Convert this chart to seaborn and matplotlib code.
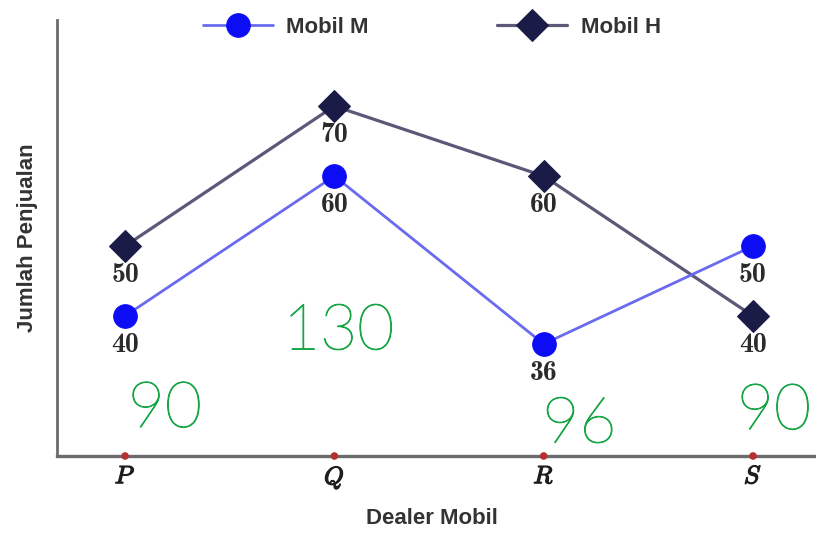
import matplotlib
matplotlib.use("Agg")
import matplotlib.pyplot as plt
import matplotlib.patheffects as pe
import seaborn as sns
import pandas as pd

# ---- data ----
dealers = ["P", "Q", "R", "S"]
mobil_m = [40, 60, 36, 50]
mobil_h = [50, 70, 60, 40]
series_names = ["Mobil M", "Mobil H"]
hand_notes = ["90", "130", "96", "90"]
hand_note_x = [0.19, 1.02, 2.17, 3.1]
hand_note_y = [26.6, 37.7, 24.4, 26.3]

sns.set_style("white")
plt.rcParams["mathtext.fontset"] = "cm"
plt.rcParams["font.family"] = ["Liberation Sans", "DejaVu Sans"]

fig = plt.figure(figsize=(8.16, 5.33), dpi=100)
ax = fig.add_axes([0.0699, 0.1445, 0.9301, 0.818])

df_m = pd.DataFrame({"dealer": dealers, "value": mobil_m})
df_h = pd.DataFrame({"dealer": dealers, "value": mobil_h})

sns.lineplot(data=df_h, x="dealer", y="value", ax=ax, color="#5b5878",
             linewidth=2.3, marker="D", markersize=16,
             markerfacecolor="#1b1b48", markeredgecolor="#1b1b48",
             label=series_names[1], zorder=3)
sns.lineplot(data=df_m, x="dealer", y="value", ax=ax, color="#6a6af0",
             linewidth=2.0, marker="o", markersize=17,
             markerfacecolor="#0c0cf5", markeredgecolor="#0c0cf5",
             label=series_names[0], zorder=4)

handles, labels = ax.get_legend_handles_labels()
if ax.get_legend() is not None:
    ax.get_legend().remove()

ymin, ymax = 20, 82.3
ax.set_xlim(-0.325, 3.301)
ax.set_ylim(ymin, ymax)

# data labels
for vals in (mobil_m, mobil_h):
    for i, v in enumerate(vals):
        ax.annotate(str(v), (i, v), xytext=(0, -21), textcoords="offset points",
                    ha="center", va="center", fontsize=20, family="cmb10",
                    color="#2b2b2b", zorder=5)

# red dots at the category positions on the x axis
sns.scatterplot(x=dealers, y=[ymin] * len(dealers), ax=ax, color="#b5302e",
                s=30, edgecolor="none", clip_on=False, zorder=6, legend=False)

# handwritten notes
for t, hx, hy in zip(hand_notes, hand_note_x, hand_note_y):
    nt = ax.text(hx, hy, t, ha="center", va="center", fontsize=46, color="#16a545",
                 family="Lato", fontweight="light", zorder=2)
    nt.set_path_effects([pe.withStroke(linewidth=0.7, foreground="#16a545")])

# spines
for s in ("top", "right"):
    ax.spines[s].set_visible(False)
ax.spines["bottom"].set_color("#6b6b6b")
ax.spines["bottom"].set_linewidth(2.4)
ax.spines["left"].set_color("#6b6b6b")
ax.spines["left"].set_linewidth(2.0)

ax.set_yticks([])
ax.set_xticks(range(len(dealers)))
ax.set_xticklabels([f"${d}$" for d in dealers], fontsize=18, color="#1e1e1e")
for tl in ax.get_xticklabels():
    tl.set_path_effects([pe.withStroke(linewidth=0.9, foreground="#1e1e1e")])
ax.tick_params(axis="x", length=0, pad=6)

ax.set_xlabel("Dealer Mobil", fontsize=16, fontweight="bold", color="#333333")
ax.set_ylabel("Jumlah Penjualan", fontsize=16, fontweight="bold", color="#333333")
ax.xaxis.set_label_coords(0.494, -0.1445)
ax.xaxis.label.set_verticalalignment("center")
ax.yaxis.set_label_coords(-0.0395, 0.5)
ax.yaxis.label.set_verticalalignment("center")

order = [labels.index(n) for n in series_names]
leg = fig.legend([handles[i] for i in order], [labels[i] for i in order],
                 loc="center", bbox_to_anchor=(0.529, 0.949), ncol=2,
                 frameon=False, handlelength=3.15, handletextpad=0.6,
                 columnspacing=5.8, prop={"size": 16, "weight": "bold"})
for txt in leg.get_texts():
    txt.set_color("#333333")

fig.savefig("out.png", dpi=100)
